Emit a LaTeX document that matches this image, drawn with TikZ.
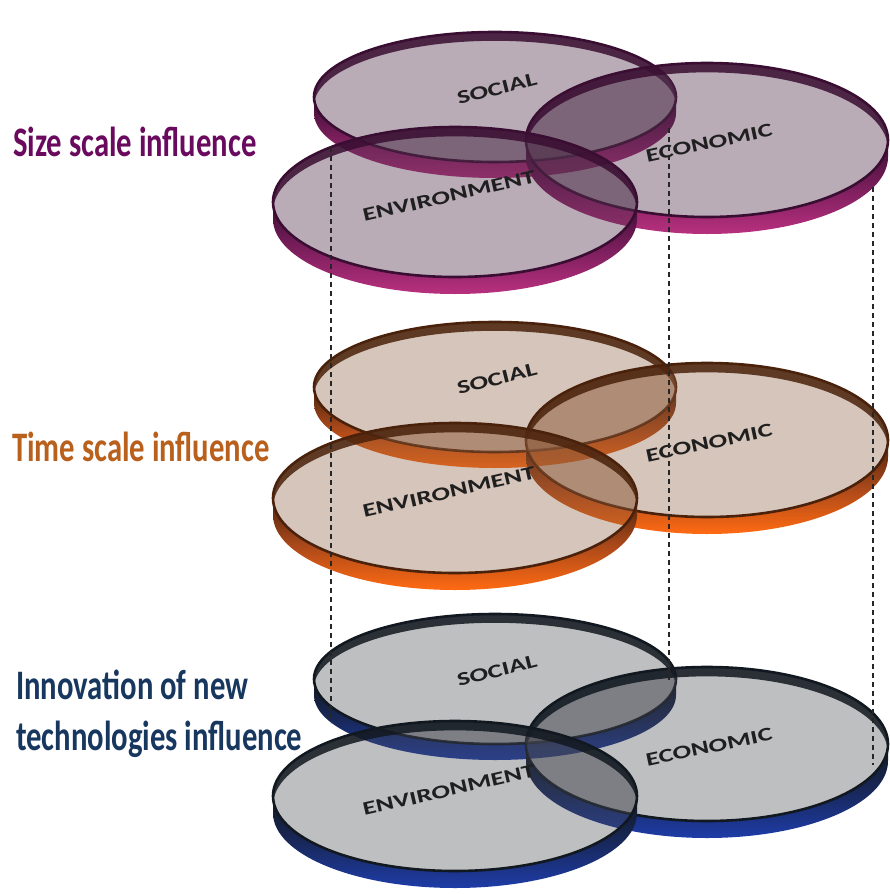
\documentclass[tikz,border=0pt]{standalone}
\usepackage{fontspec}
\newfontfamily\carlwide[FakeStretch=1.45]{Carlito}
\newfontfamily\carlnarrow[FakeStretch=0.73]{Carlito}
\definecolor{sizeC}{HTML}{6A0A5E}
\definecolor{timeC}{HTML}{B8601C}
\definecolor{innoC}{HTML}{17375E}
\newcommand\mydisc[5]{%
  \shade[top color=rimdark, bottom color=rimbright, middle color=rimmid]
    ({#1-#3},#2) arc[start angle=180,end angle=360,x radius=#3pt,y radius=#4pt]
    -- ++(0,#5) arc[start angle=0,end angle=-180,x radius=#3pt,y radius=#4pt] -- cycle;
  \fill[facebase, fill opacity=\faceop] (#1,#2) ellipse[x radius=#3pt, y radius=#4pt];
  \begin{scope}
    \clip (#1,#2) ellipse[x radius=#3pt, y radius=#4pt];
    \fill[rimdark, opacity=0.85] ({#1-#3},#2) arc[start angle=180,end angle=0,x radius=#3pt,y radius=#4pt]
      -- ++(0,{#5*0.55}) arc[start angle=0,end angle=180,x radius=#3pt,y radius=#4pt] -- cycle;
  \end{scope}
  \draw[rimdark, line width=2.6pt] (#1,#2) ellipse[x radius=#3pt, y radius=#4pt];
}
% darken the overlap of two faces
\newcommand\myoverlap[8]{%
  \begin{scope}
    \clip (#1,#2) ellipse[x radius=#3pt, y radius=#4pt];
    \fill[facebase, opacity=0.28] (#5,#6) ellipse[x radius=#7pt, y radius=#8pt];
  \end{scope}
}
\tikzset{
  disclabel/.style={font=\carlwide\bfseries\fontsize{19}{19}\selectfont, text=black!88, inner sep=0pt},
  sidelabel/.style={font=\carlnarrow\bfseries\fontsize{42}{51}\selectfont, inner sep=0pt, anchor=base west},
  vline/.style={draw=black!85, line width=1.1pt, dash pattern=on 5pt off 4pt}
}
\begin{document}
\begin{tikzpicture}[x=1pt,y=-1pt]
\fill[white] (0,0) rectangle (890,894);
\useasboundingbox (0,0) rectangle (890,894);

% ---- top layer (size scale)
\definecolor{rimdark}{RGB}{58,14,50}
\definecolor{rimmid}{RGB}{122,30,92}
\definecolor{rimbright}{RGB}{184,48,126}
\definecolor{facebase}{RGB}{80,48,75}
\def\faceop{0.4}
\mydisc{495}{97}{181}{65}{16}
\myoverlap{495}{97}{181}{65}{707}{140}{181}{77}
\mydisc{707}{140}{181}{77}{17}
\myoverlap{495}{97}{181}{65}{455}{202}{182}{75}
\myoverlap{707}{140}{181}{77}{455}{202}{182}{75}
\mydisc{455}{202}{182}{75}{17}
\node[disclabel, rotate=14] (s1) at (497,89) {SOCIAL};
\node[disclabel, rotate=12] (ec1) at (709,143) {ECONOMIC};
\node[disclabel, rotate=13] (en1) at (449,196) {ENVIRONMENT};

% ---- middle layer (time scale)
\definecolor{rimdark}{RGB}{74,34,12}
\definecolor{rimmid}{RGB}{168,72,26}
\definecolor{rimbright}{RGB}{255,106,18}
\definecolor{facebase}{RGB}{140,90,60}
\def\faceop{0.35}
\mydisc{495}{387}{181}{65}{16}
\myoverlap{495}{387}{181}{65}{707}{440}{181}{77}
\mydisc{707}{440}{181}{77}{17}
\myoverlap{495}{387}{181}{65}{455}{498}{182}{75}
\myoverlap{707}{440}{181}{77}{455}{498}{182}{75}
\mydisc{455}{498}{182}{75}{17}
\node[disclabel, rotate=14] (s2) at (497,379) {SOCIAL};
\node[disclabel, rotate=12] (ec2) at (709,443) {ECONOMIC};
\node[disclabel, rotate=13] (en2) at (449,492) {ENVIRONMENT};

% ---- bottom layer (innovation)
\definecolor{rimdark}{RGB}{18,24,32}
\definecolor{rimmid}{RGB}{24,40,90}
\definecolor{rimbright}{RGB}{30,60,168}
\definecolor{facebase}{RGB}{70,72,80}
\def\faceop{0.35}
\mydisc{495}{679}{181}{65}{16}
\myoverlap{495}{679}{181}{65}{707}{744}{181}{77}
\mydisc{707}{744}{181}{77}{17}
\myoverlap{495}{679}{181}{65}{455}{796}{182}{75}
\myoverlap{707}{744}{181}{77}{455}{796}{182}{75}
\mydisc{455}{796}{182}{75}{17}
\node[disclabel, rotate=14] (s3) at (497,671) {SOCIAL};
\node[disclabel, rotate=12] (ec3) at (709,747) {ECONOMIC};
\node[disclabel, rotate=13] (en3) at (449,790) {ENVIRONMENT};

% ---- dashed verticals
\coordinate (a1) at (331,147); \coordinate (a2) at (331,723);
\coordinate (b1) at (669,128); \coordinate (b2) at (669,680);
\coordinate (c1) at (873,187); \coordinate (c2) at (873,765);
\draw[vline] (a1) -- (a2);
\draw[vline] (b1) -- (b2);
\draw[vline] (c1) -- (c2);

% ---- side labels
\node[sidelabel, text=sizeC] (lsize) at (13,156) {Size scale influence};
\node[sidelabel, text=timeC] (ltime) at (12,461) {Time scale influence};
\node[sidelabel, text=innoC, align=left] (linno) at (16,750) {Innovation of new\\technologies influence};
\end{tikzpicture}
\end{document}
